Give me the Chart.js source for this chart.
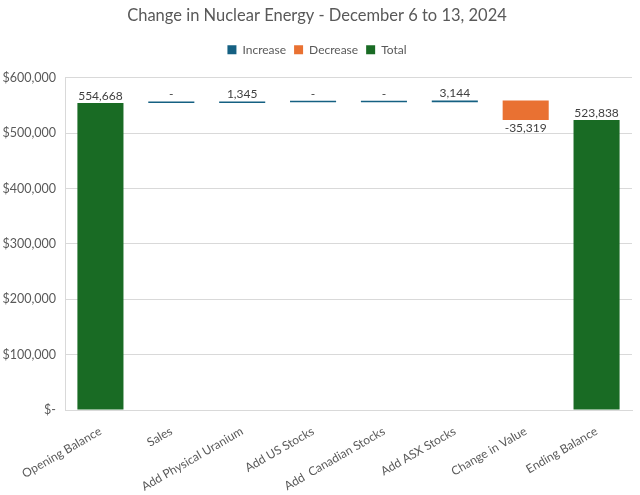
<!DOCTYPE html>
<html>
<head>
<meta charset="utf-8">
<script src="https://cdn.jsdelivr.net/npm/chart.js@4"></script>
<style>
  html, body { margin: 0; padding: 0; background: #fff; }
  #wrap { width: 640px; height: 495px; }
</style>
</head>
<body>
<div id="wrap"><canvas id="chart"></canvas></div>
<script>
const categories = ['Opening Balance', 'Sales', 'Add Physical Uranium', 'Add US Stocks',
    'Add  Canadian Stocks', 'Add ASX Stocks', 'Change in Value', 'Ending Balance'];
const changes = [554668, 0, 1345, 0, 0, 3144, -35319, 523838];
const is_total = [true, false, false, false, false, false, false, true];
const y_ticks = [0, 100000, 200000, 300000, 400000, 500000, 600000];

const colors = {increase: '#156082', decrease: '#E97132', total: '#196B24'};

// build floating ranges from running total
const increase = [], decrease = [], total = [];
let running = 0;
changes.forEach((v, i) => {
    if (is_total[i]) {
        total.push([0, v]); increase.push(null); decrease.push(null);
        running = v;
    } else if (v >= 0) {
        increase.push([running, running + v]); decrease.push(null); total.push(null);
        running += v;
    } else {
        decrease.push([running, running + v]); increase.push(null); total.push(null);
        running += v;
    }
});

function fmt(v) {
    if (v === 0) return '-';
    return v.toLocaleString('en-US');
}

const label_plugin = {
    id: 'waterfall_labels',
    afterDatasetsDraw(chart) {
        const ctx = chart.ctx;
        ctx.save();
        ctx.font = '12px Lato';
        ctx.fillStyle = '#404040';
        ctx.textAlign = 'center';
        chart.data.datasets.forEach((ds, di) => {
            const meta = chart.getDatasetMeta(di);
            meta.data.forEach((bar, i) => {
                if (ds.data[i] == null) return;
                const v = changes[i];
                const top = Math.min(bar.y, bar.base);
                const bottom = Math.max(bar.y, bar.base);
                if (v < 0) {
                    ctx.textBaseline = 'top';
                    ctx.fillText(fmt(v), bar.x, bottom + 2);
                } else {
                    ctx.textBaseline = 'bottom';
                    ctx.fillText(fmt(v), bar.x, top - 1);
                }
            });
        });
        ctx.restore();
    }
};

// extra room under the legend
const legend_gap = {
    id: 'legend_gap',
    beforeInit(chart) {
        const orig = chart.legend.fit;
        chart.legend.fit = function () {
            orig.bind(chart.legend)();
            this.height += 12;
        };
    }
};

new Chart('chart', {
    type: 'bar',
    data: {
        labels: categories,
        datasets: [
            {label: 'Increase', data: increase, backgroundColor: colors.increase, minBarLength: 1.5},
            {label: 'Decrease', data: decrease, backgroundColor: colors.decrease},
            {label: 'Total', data: total, backgroundColor: colors.total}
        ]
    },
    options: {
        responsive: true,
        maintainAspectRatio: false,
        animation: false,
        categoryPercentage: 0.65,
        barPercentage: 1.0,
        layout: {padding: {left: 2, right: 8, top: 2, bottom: 0}},
        scales: {
            x: {
                stacked: true,
                grid: {display: false},
                border: {color: '#d9d9d9'},
                afterFit: (scale) => {
                    scale.height = 85;
                    scale.paddingLeft = 0;
                    scale.paddingRight = 0;
                },
                ticks: {
                    minRotation: 30, maxRotation: 30, padding: 6,
                    color: '#595959', font: {family: 'Lato', size: 12}
                }
            },
            y: {
                stacked: false,
                min: 0, max: 600000,
                afterBuildTicks: (axis) => { axis.ticks = y_ticks.map(v => ({value: v})); },
                afterFit: (scale) => { scale.width = 63; },
                grid: {color: '#d9d9d9', drawTicks: false},
                border: {color: '#d9d9d9'},
                ticks: {
                    padding: 9,
                    color: '#595959', font: {family: 'Lato', size: 12.5},
                    callback: (v) => v === 0 ? '$-' : '$' + v.toLocaleString('en-US')
                }
            }
        },
        plugins: {
            legend: {
                position: 'top',
                labels: {
                    boxWidth: 9, boxHeight: 9, padding: 8,
                    color: '#595959', font: {family: 'Lato', size: 12}
                }
            },
            title: {
                display: true,
                text: 'Change in Nuclear Energy - December 6 to 13, 2024',
                color: '#595959',
                font: {family: 'Lato', size: 16.5, weight: 'normal'},
                padding: {top: 4, bottom: 10}
            },
            tooltip: {enabled: false}
        }
    },
    plugins: [label_plugin, legend_gap]
});
</script>
</body>
</html>
